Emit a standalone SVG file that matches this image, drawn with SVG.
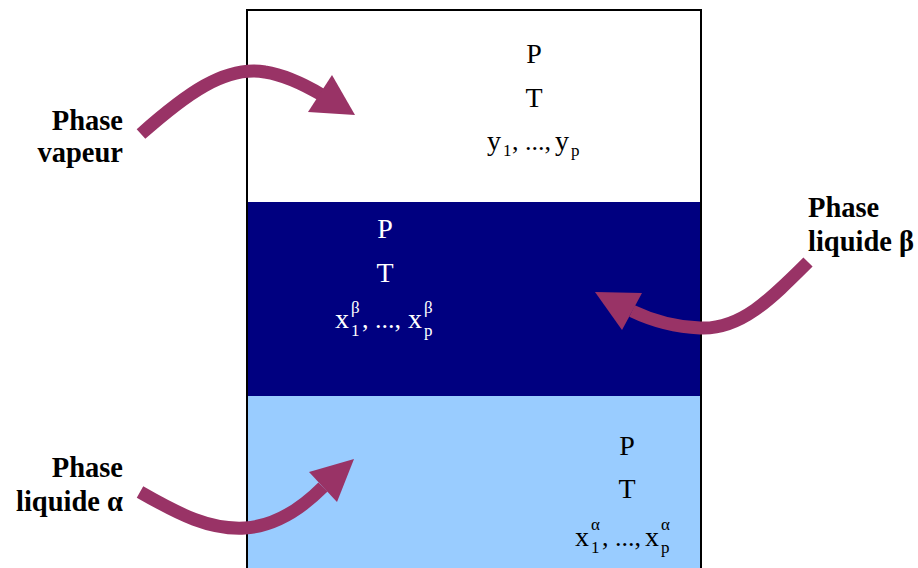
<svg xmlns="http://www.w3.org/2000/svg" width="918" height="568" viewBox="0 0 918 568">
<style>
.lbl{font-family:"Liberation Serif","Times New Roman",serif;font-weight:bold;font-size:28.5px;fill:#000}
.v{font-family:"Liberation Serif","Times New Roman",serif;font-size:28px}
.e{font-family:"Liberation Serif","Times New Roman",serif;font-size:26px}
.s{font-family:"Liberation Serif","Times New Roman",serif;font-size:17px}
.dk{fill:#000}
.wh{fill:#fff}
.shaft{fill:none;stroke:#993366;stroke-width:13}
.head{fill:#993366}
</style>
<rect x="0" y="0" width="918" height="568" fill="#fff"/>
<g id="vessel">
<rect x="247" y="10" width="454" height="192" fill="#fff"/>
<rect x="247" y="202" width="454" height="194" fill="#000080"/>
<rect x="247" y="396" width="454" height="190" fill="#99CCFF"/>
<rect x="247" y="10" width="454" height="576" fill="none" stroke="#000" stroke-width="2"/>
</g>
<g id="vapeur">
<text class="v dk" x="534" y="63" text-anchor="middle">P</text>
<text class="v dk" x="534" y="107" text-anchor="middle">T</text>
<text class="v dk" x="487" y="150">y</text>
<text class="s dk" x="503" y="156">1</text>
<text class="e dk" x="512" y="150">, ...,</text>
<text class="v dk" x="555" y="150">y</text>
<text class="s dk" x="571" y="156">p</text>
</g>
<g id="liquide-beta">
<text class="v wh" x="385" y="238" text-anchor="middle">P</text>
<text class="v wh" x="385" y="282" text-anchor="middle">T</text>
<text class="v wh" x="335" y="328">x</text>
<text class="s wh" x="351" y="336">1</text>
<text class="s wh" x="351" y="313">β</text>
<text class="e wh" x="362" y="328">, ...,</text>
<text class="v wh" x="408" y="328">x</text>
<text class="s wh" x="424" y="336">p</text>
<text class="s wh" x="424" y="313">β</text>
</g>
<g id="liquide-alpha">
<text class="v dk" x="627" y="455" text-anchor="middle">P</text>
<text class="v dk" x="627" y="498" text-anchor="middle">T</text>
<text class="v dk" x="575" y="546">x</text>
<text class="s dk" x="591" y="553">1</text>
<text class="s dk" x="591" y="530">α</text>
<text class="e dk" x="602" y="546">, ...,</text>
<text class="v dk" x="645" y="546">x</text>
<text class="s dk" x="661" y="553">p</text>
<text class="s dk" x="661" y="530">α</text>
</g>
<g id="label-vapeur">
<text class="lbl" x="123" y="130" text-anchor="end">Phase</text>
<text class="lbl" x="123" y="162" text-anchor="end">vapeur</text>
</g>
<g id="label-beta">
<text class="lbl" x="808" y="217">Phase</text>
<text class="lbl" x="808" y="251">liquide β</text>
</g>
<g id="label-alpha">
<text class="lbl" x="123" y="477" text-anchor="end">Phase</text>
<text class="lbl" x="123" y="511" text-anchor="end">liquide α</text>
</g>
<g id="connectors">
<path class="shaft" d="M141,134 C185,95 225,65 265,72 C285,75 305,85 322,95"/>
<polygon class="head" points="355,115 332,75 308,112"/>
<path class="shaft" d="M808,262 C770,300 740,330 700,328 C675,327 655,322 632,311"/>
<polygon class="head" points="595,292 642,293 622,330"/>
<path class="shaft" d="M140,492 C180,515 210,530 245,528 C275,526 300,510 323,487"/>
<polygon class="head" points="354,459 309,472 337,502"/>
</g>
</svg>
